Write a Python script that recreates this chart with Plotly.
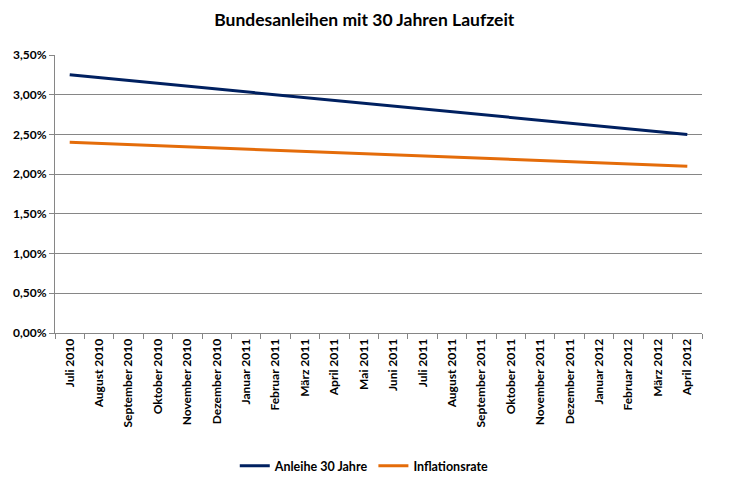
import plotly.graph_objects as go

months = ["Juli 2010", "August 2010", "September 2010", "Oktober 2010", "November 2010",
          "Dezember 2010", "Januar 2011", "Februar 2011", "März 2011", "April 2011",
          "Mai 2011", "Juni 2011", "Juli 2011", "August 2011", "September 2011",
          "Oktober 2011", "November 2011", "Dezember 2011", "Januar 2012", "Februar 2012",
          "März 2012", "April 2012"]

anleihe = [3.250, 3.214, 3.179, 3.143, 3.107, 3.071, 3.036, 3.000, 2.964, 2.929, 2.893,
           2.857, 2.821, 2.786, 2.750, 2.714, 2.679, 2.643, 2.607, 2.571, 2.536, 2.500]
inflation = [2.400, 2.386, 2.371, 2.357, 2.343, 2.329, 2.314, 2.300, 2.286, 2.271, 2.257,
             2.243, 2.229, 2.214, 2.200, 2.186, 2.171, 2.157, 2.143, 2.129, 2.114, 2.100]

y_ticks = [0, 0.5, 1.0, 1.5, 2.0, 2.5, 3.0, 3.5]

FONT = "Lato"

fig = go.Figure()
fig.add_trace(go.Scatter(x=months, y=[v / 100 for v in anleihe], mode="lines",
                         name="Anleihe 30 Jahre", line=dict(color="#002060", width=3)))
fig.add_trace(go.Scatter(x=months, y=[v / 100 for v in inflation], mode="lines",
                         name="Inflationsrate", line=dict(color="#E46C0A", width=3)))

# page has an 8px body margin, so the figure is sized/offset to compensate
fig.update_layout(
    width=732, height=492,
    margin=dict(l=47, r=38, t=47, b=167, autoexpand=False),
    paper_bgcolor="white", plot_bgcolor="white",
    separators=",.",
    title=dict(text="<b>Bundesanleihen mit 30 Jahren Laufzeit</b>", x=0.478, xanchor="center",
               xref="paper", y=0.976, yanchor="middle",
               font=dict(family=FONT, size=17.5, color="#000000")),
    font=dict(family=FONT, color="#000000"),
    showlegend=True,
    legend=dict(orientation="h", x=0.478, xanchor="center", yref="container",
                y=0.069, yanchor="middle",
                font=dict(family=FONT, size=12.5, color="#000000", weight="bold"),
                itemwidth=30, tracegroupgap=0),
    xaxis=dict(type="category", tickangle=-90, showgrid=False, automargin=False,
               showline=True, linecolor="#868686", linewidth=1,
               ticks="outside", tickson="boundaries", ticklen=5, tickcolor="#868686",
               tickfont=dict(family=FONT, size=12, color="#000000", weight="bold"),
               range=[-0.5, len(months) - 0.5]),
    yaxis=dict(range=[0, 0.035], tickvals=[t / 100 for t in y_ticks], tickformat=".2%",
               showgrid=True, gridcolor="#868686", gridwidth=1, automargin=False,
               showline=True, linecolor="#868686", linewidth=1,
               ticks="outside", ticklen=5, tickcolor="#868686", zeroline=False,
               tickfont=dict(family=FONT, size=12, color="#000000", weight="bold")),
)

fig.write_html("out.html")
